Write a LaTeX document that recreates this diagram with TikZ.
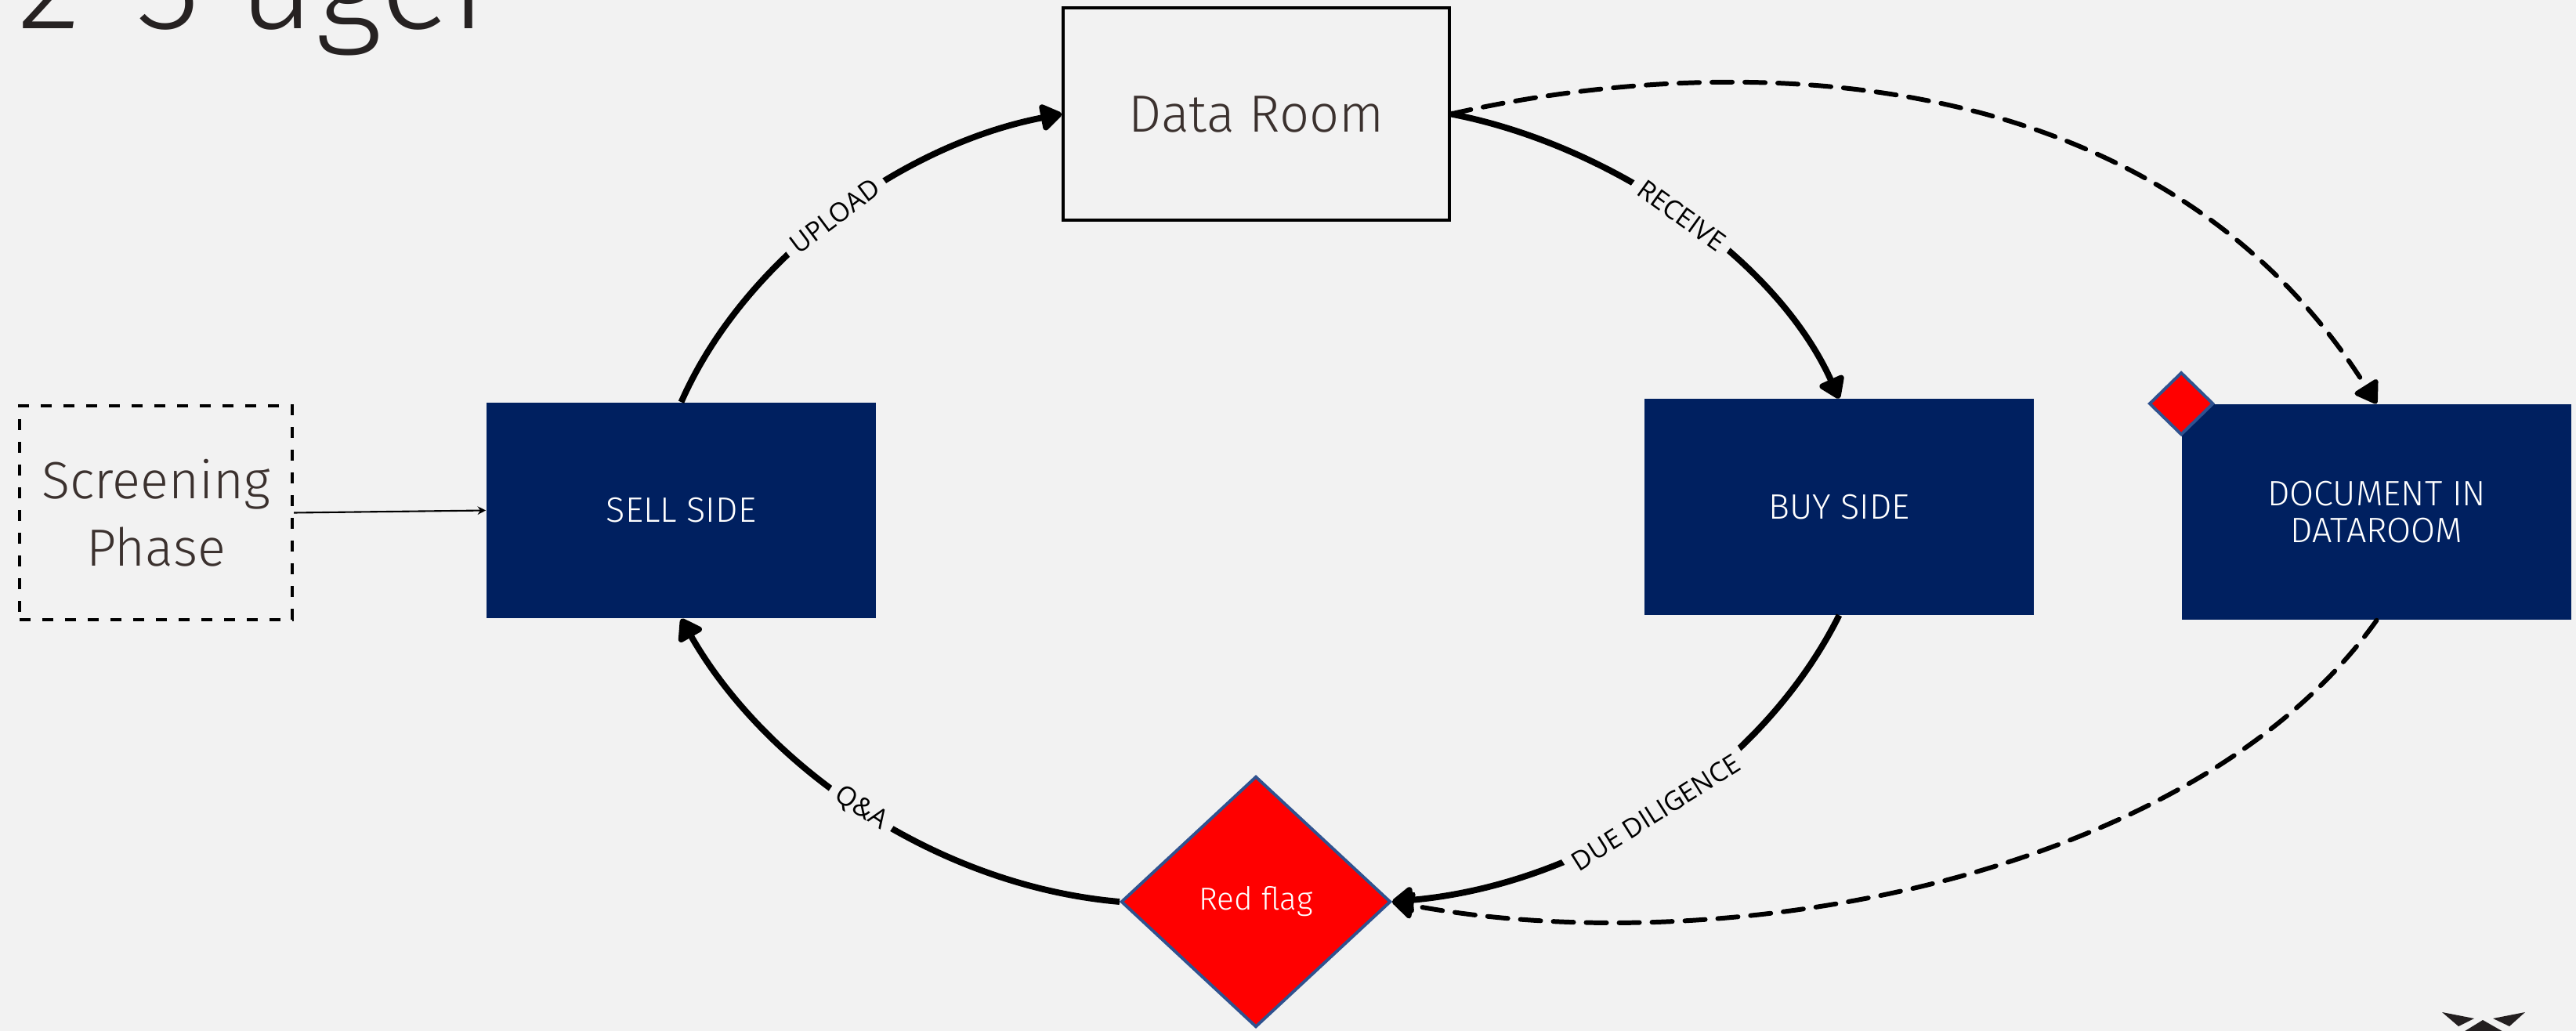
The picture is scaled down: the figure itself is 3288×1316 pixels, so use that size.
\documentclass[tikz,border=0pt]{standalone}
\usepackage{fontspec}
\setmainfont{Fira Sans Light}
\newfontfamily\labelfont{Open Sans}
\usepackage{tikz}
\usetikzlibrary{positioning,shapes.geometric,arrows.meta}
\definecolor{bgcol}{RGB}{242,242,242}
\definecolor{navy}{RGB}{0,32,96}
\definecolor{flagblue}{RGB}{47,82,143}
\definecolor{textbrown}{RGB}{59,49,46}
\definecolor{titlegray}{RGB}{38,34,34}
\definecolor{logoblack}{RGB}{35,31,32}
\tikzset{
  sidebox/.style={rectangle, fill=navy, text=white, minimum width=4.97cm, minimum height=2.75cm,
    align=center, font=\fontsize{12.8}{13.6}\selectfont},
  bigtext/.style={text=textbrown, align=center, font=\fontsize{19}{24.4}\selectfont},
  flagshape/.style={diamond, fill=red, draw=flagblue, line width=1.1pt, inner sep=0pt},
  flow/.style={line width=2.25pt, -{Triangle[round,length=0.3cm,width=0.38cm]}},
  dashflow/.style={line width=1.7pt, line cap=round, dash pattern=on 0.26cm off 0.16cm,
    -{Triangle[round,length=0.3cm,width=0.38cm]}},
  arclabel/.style={midway, sloped, fill=bgcol, inner sep=3pt, font=\labelfont\fontsize{9.6}{11}\selectfont}
}
\begin{document}
\begin{tikzpicture}[x=0.01cm,y=-0.01cm]
        \useasboundingbox (0,0) rectangle (3288,1316);
        \fill[bgcol] (0,0) rectangle (3288,1316);
        % Text Node
        \node[anchor=base west, inner sep=0pt, text=titlegray, font=\fontsize{48}{54}\selectfont] (title) at (22,37) {2--3 uger};
        %Shape: Rectangle
        \node[draw=black, line width=1pt, minimum width=4.93cm, minimum height=2.71cm, bigtext] (dataroom) at (1603.5,145.5) {Data Room};
        \node[sidebox] (sell) at (869.5,651.5) {SELL SIDE};
        \node[sidebox] (buy) at (2347.5,647) {BUY SIDE};
        \node[sidebox] (doc) at (3033.5,653.5) {DOCUMENT IN\\DATAROOM};
        \node[draw=black, line width=1.1pt, dash pattern=on 0.14cm off 0.15cm, minimum width=3.48cm, minimum height=2.73cm, bigtext] (screening) at (199,654.5) {Screening\\Phase};
        %Shape: Diamond
        \node[flagshape, minimum width=3.44cm, minimum height=3.2cm, text=white, font=\fontsize{11.5}{13}\selectfont] (redflag) at (1603,1151) {Red flag};
        \node[flagshape, minimum width=0.82cm, minimum height=0.8cm] (flagmark) at (doc.north west) {};
        %Curve Lines
        \draw[flow] (sell.north) .. controls (950,330) and (1150,185) .. (dataroom.west) node[arclabel] {UPLOAD};
        \draw[flow] (dataroom.east) .. controls (2057,185) and (2267,330) .. (buy.north) node[arclabel] {RECEIVE};
        \draw[flow] (buy.south) .. controls (2245,990) and (2016,1130) .. (redflag.east) node[arclabel] {DUE DILIGENCE};
        \draw[flow] (redflag.west) .. controls (1190,1130) and (975,975) .. (sell.south) node[arclabel] {Q\&A};
        \draw[dashflow] (dataroom.east) .. controls (2200,66) and (2750,66) .. (doc.north);
        \draw[dashflow] (doc.south) .. controls (2800,1120) and (2200,1230) .. (redflag.east);
        %Straight Lines
        \draw[line width=0.6pt, -{Stealth[length=3pt,width=3pt]}] (screening.east) -- (sell.west);
        %Shape: Logo
        \fill[logoblack] (3117,1292) -- (3158,1300) -- (3138,1310) -- cycle;
        \fill[logoblack] (3182,1300) -- (3223,1292) -- (3203,1310) -- cycle;
        \fill[logoblack] (3169,1302) -- (3197,1318) -- (3143,1318) -- cycle;
\end{tikzpicture}
\end{document}
